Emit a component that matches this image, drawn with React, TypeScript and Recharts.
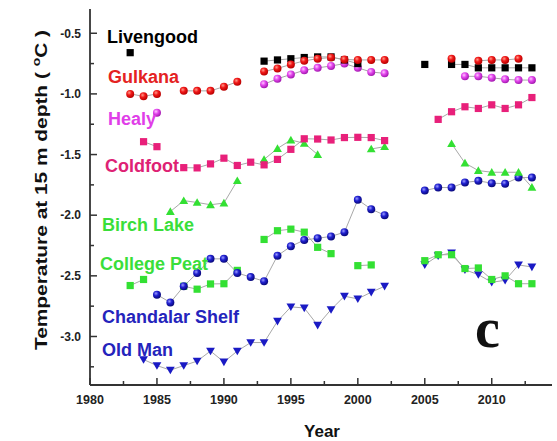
import { LineChart, Line, XAxis, YAxis } from "recharts"

// year of each measurement column
const years = [
  1983, 1984, 1985, 1986, 1987, 1988, 1989, 1990, 1991, 1992,
  1993, 1994, 1995, 1996, 1997, 1998, 1999, 2000, 2001, 2002,
  2003, 2004, 2005, 2006, 2007, 2008, 2009, 2010, 2011, 2012, 2013,
]

// temperature at 15 m depth (°C), null where a site has no reading
const livengood = [
  -0.66, null, null, null, null, null, null, null, null, null,
  -0.73, -0.72, -0.71, -0.7, -0.695, -0.695, -0.72, -0.75, null, null,
  null, null, -0.757, null, -0.757, -0.757, -0.785, -0.785, -0.785, -0.785, -0.785,
]
const gulkana = [
  -1.0, -1.02, -1.0, null, -0.975, -0.975, -0.975, -0.94, -0.9, null,
  -0.815, -0.79, -0.757, -0.727, -0.71, -0.7, -0.716, -0.72, -0.72, -0.72,
  null, null, null, null, -0.71, null, -0.727, -0.72, -0.72, -0.71, null,
]
const healy = [
  null, null, -1.155, null, null, null, null, null, null, null,
  -0.92, -0.875, -0.84, -0.805, -0.785, -0.77, -0.75, -0.785, -0.82, -0.83,
  null, null, null, null, null, -0.855, -0.855, -0.867, -0.88, -0.886, -0.886,
]
const coldfoot = [
  null, -1.394, -1.435, null, -1.608, -1.61, -1.577, -1.53, -1.59, -1.563,
  -1.585, -1.54, -1.457, -1.37, -1.372, -1.38, -1.36, -1.358, -1.36, -1.385,
  null, null, null, -1.21, -1.147, -1.106, -1.12, -1.09, -1.12, -1.09, -1.03,
]
const birchLake = [
  null, null, null, -1.97, -1.88, -1.895, -1.914, -1.9, -1.715, null,
  -1.54, -1.45, -1.38, -1.407, -1.5, null, null, null, -1.454, -1.435,
  null, null, null, null, -1.41, -1.57, -1.632, -1.646, -1.646, -1.646, -1.77,
]
const collegePeat = [
  -2.58, -2.53, null, null, -2.586, -2.61, -2.567, -2.565, -2.455, null,
  -2.2, -2.128, -2.115, -2.14, -2.265, -2.317, null, -2.416, -2.41, null,
  null, null, -2.375, -2.326, -2.326, -2.44, -2.435, -2.53, -2.5, -2.565, -2.565,
]
const chandalarShelf = [
  null, null, -2.655, -2.72, -2.586, -2.477, -2.36, -2.36, -2.477, -2.51,
  -2.545, -2.334, -2.257, -2.205, -2.19, -2.175, -2.14, -1.873, -1.95, -2.0,
  null, null, -1.797, -1.772, -1.772, -1.73, -1.717, -1.736, -1.74, -1.69, -1.69,
]
const oldMan = [
  null, -3.19, -3.24, -3.277, -3.24, -3.203, -3.12, -3.21, -3.12, -3.05,
  -3.05, -2.874, -2.756, -2.765, -2.907, -2.778, -2.668, -2.69, -2.635, -2.586,
  null, null, -2.408, -2.334, -2.31, -2.45, -2.49, -2.553, -2.537, -2.41, -2.427,
]

const xTicks = [1980, 1982.5, 1985, 1987.5, 1990, 1992.5, 1995, 1997.5, 2000, 2002.5, 2005, 2007.5, 2010, 2012.5]
const yTicks = [-3.25, -3, -2.75, -2.5, -2.25, -2, -1.75, -1.5, -1.25, -1, -0.75, -0.5]

const siteNames = ["Livengood", "Gulkana", "Healy", "Coldfoot", "Birch Lake", "College Peat", "Chandalar Shelf", "Old Man"]

const data = years.map((year, i) => ({
  year,
  livengood: livengood[i],
  gulkana: gulkana[i],
  healy: healy[i],
  coldfoot: coldfoot[i],
  birchLake: birchLake[i],
  collegePeat: collegePeat[i],
  chandalarShelf: chandalarShelf[i],
  oldMan: oldMan[i],
}))

type Shape = "square" | "ball" | "up" | "down"

const series: { key: string; shape: Shape; fill: string }[] = [
  { key: "oldMan", shape: "down", fill: "#1a1ac4" },
  { key: "collegePeat", shape: "square", fill: "#33e033" },
  { key: "chandalarShelf", shape: "ball", fill: "url(#ballBlue)" },
  { key: "birchLake", shape: "up", fill: "#33e033" },
  { key: "coldfoot", shape: "square", fill: "#e8207a" },
  { key: "healy", shape: "ball", fill: "url(#ballMagenta)" },
  { key: "livengood", shape: "square", fill: "#000000" },
  { key: "gulkana", shape: "ball", fill: "url(#ballRed)" },
]

const labelColors = ["#000000", "#e42222", "#e03ee8", "#de2274", "#3ade3a", "#3ade3a", "#2424bc", "#2424bc"]
const labelY = [43, 83, 125, 172, 231, 270, 323, 356]
const labelX = [107, 108, 108, 105, 102, 100, 102, 102]

const FRAME = "#333"
const SANS = "'Liberation Sans', Arial, sans-serif"

function marker(shape: Shape, fill: string) {
  return (p: any) => {
    const { cx, cy, index } = p
    const k = `m-${index}`
    if (cx == null || cy == null || Number.isNaN(cy)) return <g key={k} />
    if (shape === "square")
      return <rect key={k} x={cx - 3.6} y={cy - 3.6} width={7.2} height={7.2} fill={fill} />
    if (shape === "ball") return <circle key={k} cx={cx} cy={cy} r={4} fill={fill} />
    const d =
      shape === "up"
        ? `M${cx - 4.4},${cy + 3.4}L${cx + 4.4},${cy + 3.4}L${cx},${cy - 4.2}Z`
        : `M${cx - 4.4},${cy - 3.4}L${cx + 4.4},${cy - 3.4}L${cx},${cy + 4.2}Z`
    return <path key={k} d={d} fill={fill} />
  }
}

const isMajorYear = (v: number) => v % 5 === 0
const isMajorTemp = (v: number) => Math.abs(v * 2 - Math.round(v * 2)) < 1e-6

function BottomTick(p: any) {
  const { x, y, payload } = p
  const major = isMajorYear(payload.value)
  return (
    <g>
      <line x1={x} x2={x} y1={y} y2={y - (major ? 7 : 4)} stroke={FRAME} strokeWidth={1.5} />
      {major && (
        <text x={x} y={y + 19} textAnchor="middle" fontFamily={SANS} fontWeight="bold" fontSize={12.5} fill="#222">
          {payload.value}
        </text>
      )}
    </g>
  )
}

function TopTick(p: any) {
  const { x, y, payload } = p
  const major = isMajorYear(payload.value)
  return <line x1={x} x2={x} y1={y} y2={y + (major ? 6 : 5)} stroke={FRAME} strokeWidth={1.5} />
}

function LeftTick(p: any) {
  const { x, y, payload } = p
  const major = isMajorTemp(payload.value)
  return (
    <g>
      <line x1={x} x2={x + (major ? 7 : 4)} y1={y} y2={y} stroke={FRAME} strokeWidth={1.5} />
      {major && (
        <text x={x - 9} y={y + 4.3} textAnchor="end" fontFamily={SANS} fontWeight="bold" fontSize={12} fill="#222">
          {payload.value.toFixed(1)}
        </text>
      )}
    </g>
  )
}

function RightTick(p: any) {
  const { x, y } = p
  return <line x1={x} x2={x - 6} y1={y} y2={y} stroke={FRAME} strokeWidth={1.5} />
}

const axisLine = { stroke: FRAME, strokeWidth: 1.8 }

export default function App() {
  return (
    <div style={{ position: "absolute", left: 0, top: 0, width: 557, height: 441, background: "#fff" }}>
      <LineChart width={557} height={441} data={data} margin={{ top: 9, right: 5, bottom: 0, left: 0 }}>
        <defs>
          <radialGradient id="ballRed" cx="38%" cy="35%" r="65%">
            <stop offset="0%" stopColor="#ff9a8a" />
            <stop offset="45%" stopColor="#f01818" />
            <stop offset="100%" stopColor="#b80000" />
          </radialGradient>
          <radialGradient id="ballMagenta" cx="38%" cy="35%" r="65%">
            <stop offset="0%" stopColor="#ffc8ff" />
            <stop offset="45%" stopColor="#e448ee" />
            <stop offset="100%" stopColor="#a418b0" />
          </radialGradient>
          <radialGradient id="ballBlue" cx="38%" cy="35%" r="65%">
            <stop offset="0%" stopColor="#9c9cff" />
            <stop offset="45%" stopColor="#2020d0" />
            <stop offset="100%" stopColor="#08087a" />
          </radialGradient>
        </defs>
        <XAxis
          xAxisId="b"
          dataKey="year"
          type="number"
          domain={[1980, 2014.5]}
          ticks={xTicks}
          interval={0}
          allowDataOverflow
          tick={BottomTick}
          tickLine={false}
          tickSize={0}
          tickMargin={0}
          height={56}
          axisLine={axisLine}
        />
        <XAxis
          xAxisId="t"
          orientation="top"
          type="number"
          domain={[1980, 2014.5]}
          ticks={xTicks}
          interval={0}
          allowDataOverflow
          tick={TopTick}
          tickLine={false}
          tickSize={0}
          tickMargin={0}
          height={0}
          axisLine={axisLine}
        />
        <YAxis
          yAxisId="l"
          type="number"
          domain={[-3.4, -0.3]}
          ticks={yTicks}
          interval={0}
          allowDataOverflow
          tick={LeftTick}
          tickLine={false}
          tickSize={0}
          tickMargin={0}
          width={90}
          axisLine={axisLine}
        />
        <YAxis
          yAxisId="r"
          orientation="right"
          type="number"
          domain={[-3.4, -0.3]}
          ticks={yTicks}
          interval={0}
          allowDataOverflow
          tick={RightTick}
          tickLine={false}
          tickSize={0}
          tickMargin={0}
          width={0}
          axisLine={axisLine}
        />
        {series.map((s) => (
          <Line
            key={s.key}
            xAxisId="b"
            yAxisId="l"
            type="linear"
            dataKey={s.key}
            stroke="#a8a8a8"
            strokeWidth={1}
            dot={marker(s.shape, s.fill)}
            activeDot={false}
            connectNulls={false}
            isAnimationActive={false}
          />
        ))}
      </LineChart>
      <svg width={557} height={441} style={{ position: "absolute", left: 0, top: 0, pointerEvents: "none" }}>
        {siteNames.map((name, i) => (
          <text key={name} x={labelX[i]} y={labelY[i]} fontFamily={SANS} fontWeight="bold" fontSize={18} fill={labelColors[i]}>
            {name}
          </text>
        ))}
        <text x={475} y={347} fontFamily="'Liberation Serif', 'Times New Roman', serif" fontWeight="bold" fontSize={56} fill="#111">
          c
        </text>
        <text x={322} y={437} textAnchor="middle" fontFamily={SANS} fontWeight="bold" fontSize={17} fill="#111">
          Year
        </text>
        <text
          transform="translate(47,190) rotate(-90)"
          textAnchor="middle"
          fontFamily={SANS}
          fontWeight="bold"
          fontSize={16.5}
          fill="#111"
          textLength={320}
          lengthAdjust="spacingAndGlyphs"
        >
          {"Temperature at 15 m depth ( "}
          <tspan dy={-7} fontSize={11}>o</tspan>
          <tspan dy={7}>{"C )"}</tspan>
        </text>
      </svg>
    </div>
  )
}
